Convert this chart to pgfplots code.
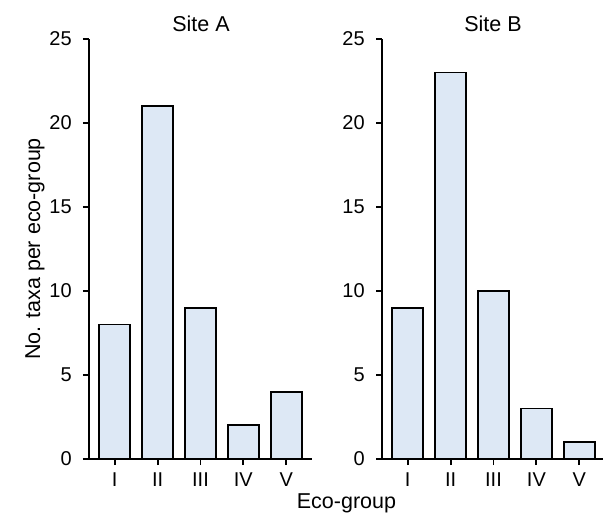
\documentclass[border=0pt]{standalone}
\usepackage{fontspec}
\setmainfont{Liberation Sans}
\usepackage{pgfplots}
\pgfplotsset{compat=1.18}
\definecolor{barfill}{RGB}{221,232,245}
\begin{document}
\fontsize{21.5bp}{26bp}\selectfont
\begin{tikzpicture}
\pgfplotsset{
  panel/.style={
    scale only axis, width=223bp, height=420bp,
    xmin=-0.6, xmax=4.6, ymin=0, ymax=25,
    axis lines=left,
    axis line style={-, line width=1.8bp, black},
    xtick={0,1,2,3,4}, xticklabels={I,II,III,IV,V},
    ytick={0,5,10,15,20,25},
    tick align=outside, major tick length=6bp,
    tick style={line width=1.8bp, black},
    ticklabel style={font=\fontsize{20bp}{24bp}\selectfont},
    yticklabel style={xshift=-4bp},
    /pgf/number format/assume math mode=true,
    ybar, bar width=31bp,
    clip=false,
  }
}
\useasboundingbox (-89bp,-59bp) rectangle (514bp,459bp);
\begin{axis}[panel, at={(0bp,0bp)}, anchor=south west]
\addplot[fill=barfill, draw=black, line width=1.8bp] coordinates {(0,8) (1,21) (2,9) (3,2) (4,4)};
\end{axis}
\begin{axis}[panel, at={(293bp,0bp)}, anchor=south west]
\addplot[fill=barfill, draw=black, line width=1.8bp] coordinates {(0,9) (1,23) (2,10) (3,3) (4,1)};
\end{axis}
\node[anchor=base] at (112bp,427bp) {Site A};
\node[anchor=base] at (404bp,427bp) {Site B};
\node[rotate=90, anchor=center] at (-54bp,210bp) {No. taxa per eco-group};
\node[anchor=base] at (257.5bp,-49bp) {Eco-group};
\end{tikzpicture}
\end{document}
